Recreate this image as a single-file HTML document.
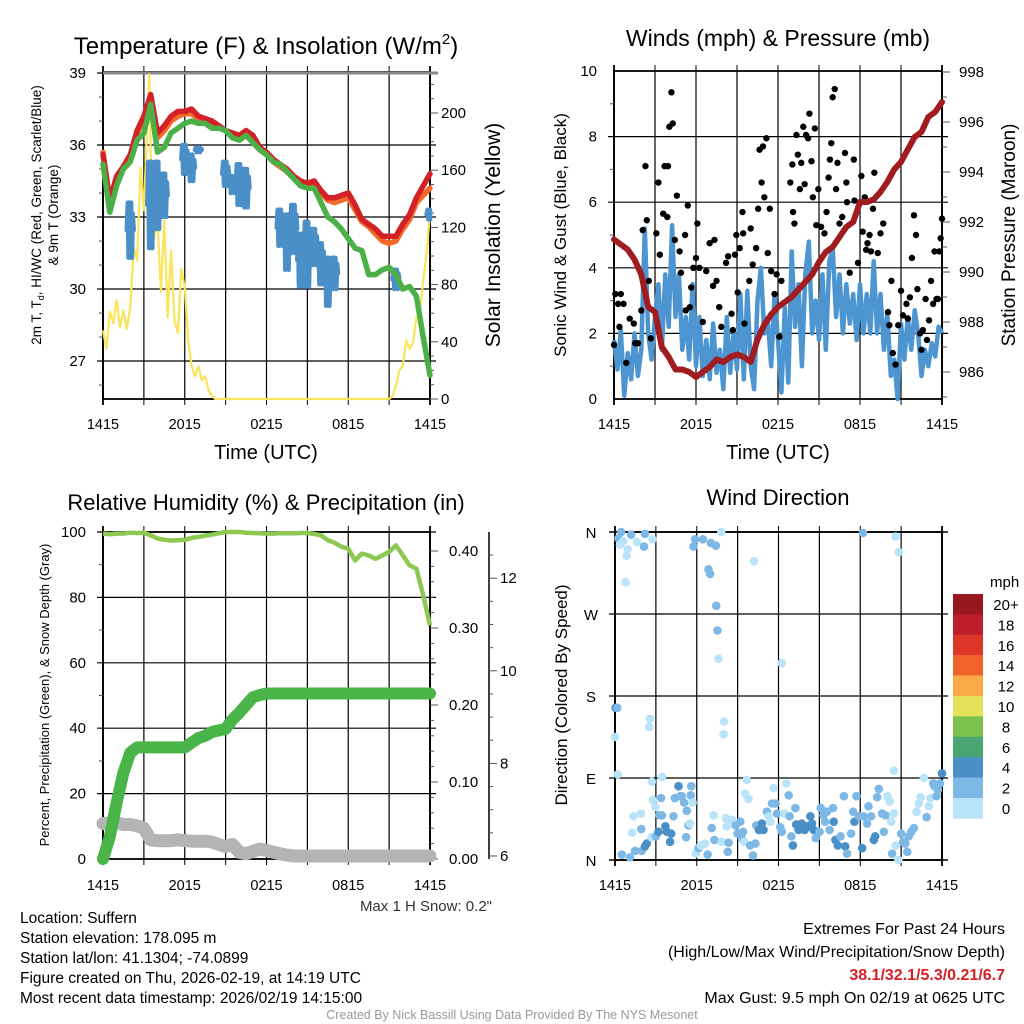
<!DOCTYPE html>
<html><head><meta charset="utf-8"><style>
body{margin:0;background:#fff}
svg{display:block;font-family:"Liberation Sans",sans-serif}
</style></head><body>
<svg id="s" width="1024" height="1024" viewBox="0 0 1024 1024" xmlns="http://www.w3.org/2000/svg">
<rect width="1024" height="1024" fill="#fff"/>
<g id="p1"></g>
<g id="p2"></g>
<g id="p3"></g>
<g id="p4"></g>
<g id="txt" font-size="16" fill="#000">
<text x="266" y="54" font-size="24" text-anchor="middle">Temperature (F) &amp; Insolation (W/m<tspan font-size="15" dy="-10">2</tspan><tspan dy="10">)</tspan></text>
<text x="778" y="46" font-size="23" text-anchor="middle">Winds (mph) &amp; Pressure (mb)</text>
<text x="266" y="510" font-size="22" text-anchor="middle">Relative Humidity (%) &amp; Precipitation (in)</text>
<text x="778" y="505" font-size="22" text-anchor="middle">Wind Direction</text>
<text x="266" y="459" font-size="20" text-anchor="middle">Time (UTC)</text>
<text x="778" y="459" font-size="20" text-anchor="middle">Time (UTC)</text>
<text transform="translate(41,215) rotate(-90)" font-size="13.5" text-anchor="middle">2m T, T<tspan font-size="9" dy="3">d</tspan><tspan dy="-3">, HI/WC (Red, Green, Scarlet/Blue)</tspan></text>
<text transform="translate(58,215) rotate(-90)" font-size="13.5" text-anchor="middle">&amp; 9m T (Orange)</text>
<text transform="translate(500,235) rotate(-90)" font-size="21" text-anchor="middle">Solar Insolation (Yellow)</text>
<text transform="translate(566,235) rotate(-90)" font-size="17" text-anchor="middle">Sonic Wind &amp; Gust (Blue, Black)</text>
<text transform="translate(1015,235) rotate(-90)" font-size="19" text-anchor="middle">Station Pressure (Maroon)</text>
<text transform="translate(49,695) rotate(-90)" font-size="13" text-anchor="middle">Percent, Precipitation (Green), &amp; Snow Depth (Gray)</text>
<text transform="translate(567,695) rotate(-90)" font-size="17" text-anchor="middle">Direction (Colored By Speed)</text>
<text x="492" y="911" font-size="15" fill="#333" text-anchor="end">Max 1 H Snow: 0.2"</text>
<text x="20" y="923" font-size="15.5">Location: Suffern</text>
<text x="20" y="943" font-size="15.5">Station elevation: 178.095 m</text>
<text x="20" y="963" font-size="15.5">Station lat/lon: 41.1304; -74.0899</text>
<text x="20" y="983" font-size="15.5">Figure created on Thu, 2026-02-19, at 14:19 UTC</text>
<text x="20" y="1003" font-size="15.5">Most recent data timestamp: 2026/02/19 14:15:00</text>
<text x="1005" y="934" font-size="16" text-anchor="end">Extremes For Past 24 Hours</text>
<text x="1005" y="957" font-size="16" text-anchor="end">(High/Low/Max Wind/Precipitation/Snow Depth)</text>
<text x="1005" y="980" font-size="16" font-weight="bold" fill="#d42027" text-anchor="end">38.1/32.1/5.3/0.21/6.7</text>
<text x="1005" y="1003" font-size="16" text-anchor="end">Max Gust: 9.5 mph On 02/19 at 0625 UTC</text>
<text x="512" y="1019" font-size="12.5" fill="#999" text-anchor="middle">Created By Nick Bassill Using Data Provided By The NYS Mesonet</text>
<text x="990" y="587" font-size="15">mph</text>
</g>
</svg>
<script>
// ---- data (half-hour steps unless noted) ----
const xTickLabels = ["1415","2015","0215","0815","1415"];
const tempRed = [35.6,33.7,34.7,35.1,35.6,36.6,37.2,38.1,36.5,36.8,37.2,37.4,37.4,37.5,37.2,37.1,37.0,36.8,36.6,36.5,36.4,36.6,36.4,35.9,35.7,35.4,35.2,35.0,34.7,34.5,34.4,34.5,34.1,33.8,33.8,33.9,34.0,33.5,32.9,32.7,32.5,32.2,32.2,32.2,32.7,33.1,33.8,34.3,34.8];
const tempOrange = [35.7,33.6,34.6,35.1,35.5,36.5,37.1,37.9,36.3,36.6,37.0,37.2,37.3,37.3,37.1,37.0,36.9,36.8,36.6,36.4,36.3,36.5,36.3,35.8,35.6,35.3,35.1,34.9,34.6,34.4,34.3,34.3,34.0,33.7,33.6,33.7,33.8,33.3,32.8,32.6,32.3,32.0,31.9,32.0,32.5,32.9,33.6,33.9,34.2];
const tempGreen = [35.2,33.2,34.3,35.0,35.3,36.2,36.5,37.7,35.7,35.9,36.5,36.7,36.9,37.0,36.9,36.9,36.7,36.7,36.6,36.3,36.2,36.4,36.1,35.8,35.6,35.3,35.2,34.9,34.6,34.3,34.2,34.2,33.6,33.0,32.8,32.5,32.1,31.7,31.6,30.6,30.6,30.8,30.9,30.6,30.0,30.1,29.7,28.0,26.4];
const chillLo = [null,null,null,null,31.3,null,null,31.7,32.5,33.0,null,null,34.8,34.5,35.7,null,null,null,34.3,34.0,33.5,33.4,null,null,null,null,31.8,30.8,31.5,30.1,30.1,31.0,30.2,29.3,30.0,null,null,null,null,null,null,null,null,30.0,null,null,null,null,32.9];
const chillHi = [null,null,null,null,33.6,null,null,35.3,35.3,34.8,null,null,36.0,35.6,35.9,null,null,null,35.3,34.7,35.2,35.0,null,null,null,null,33.3,33.1,33.5,32.3,32.8,32.5,31.9,31.3,31.3,null,null,null,null,null,null,null,null,30.8,null,null,null,null,33.3];
// insolation, quarter-hour steps
const solar = [48,35,61,53,69,50,62,49,64,106,97,162,132,195,172,113,125,75,125,57,104,55,46,91,78,41,23,16,23,13,16,6,2,0,0,0,0,0,0,0,0,0,0,0,0,0,0,0,0,0,0,0,0,0,0,0,0,0,0,0,0,0,0,0,0,0,0,0,0,0,0,0,0,0,0,0,0,0,0,0,0,0,0,0,0,2,9,20,23,41,35,39,57,60,83,102,130];
const solarPeakTime = 3.4, solarPeak = 227;
const tempTicks = [27,30,33,36,39];
const solarTicks = [0,40,80,120,160,200];

const pressure = [991.3,991.1,990.9,990.5,989.9,988.6,988.4,987.0,986.6,986.1,986.1,986.0,985.8,986.0,986.2,986.5,986.4,986.6,986.7,986.6,986.4,987.3,987.9,988.3,988.6,988.8,989.0,989.3,989.6,989.9,990.4,990.8,991.0,991.4,991.8,992.0,992.8,992.8,992.9,993.2,993.6,994.1,994.4,994.9,995.4,995.6,996.2,996.4,996.8];
// sonic wind, quarter-hour steps
const wind = [1.8,0.9,2.1,0.1,1.4,0.6,2.0,0.7,1.5,5.2,2.0,1.2,2.5,3.5,1.5,3.8,2.2,5.3,2.5,3.8,1.5,2.5,1.2,3.5,1.0,2.5,0.7,1.8,0.6,2.3,0.8,1.5,0.3,2.5,0.8,2.0,0.9,3.2,0.6,3.3,1.0,0.3,3.0,4.0,2.0,2.4,1.0,3.2,1.8,0.2,2.8,0.5,4.5,2.2,3.5,1.0,3.8,4.8,2.0,3.0,1.8,3.8,1.5,4.2,4.6,2.5,3.8,2.0,3.5,2.3,3.2,1.8,3.5,2.0,3.2,2.0,4.2,2.0,3.2,1.5,2.6,0.7,1.2,0.0,2.3,1.2,2.5,1.5,2.7,2.0,0.7,1.5,1.0,1.7,1.3,2.2,2.0];
const gustTime = [0,0.1,0.3,0.5,0.4,0.7,0.9,1.15,1.45,1.55,1.75,2.0,2.1,2.3,2.4,2.55,2.7,3.1,3.25,3.35,3.6,3.7,3.95,3.9,4.05,4.2,4.3,4.45,4.6,4.8,4.9,5.2,5.4,5.25,5.55,5.65,5.8,6.0,6.1,6.25,6.5,6.75,7.0,7.25,7.35,7.5,7.7,7.85,8.2,8.35,8.6,8.7,8.85,8.95,9.05,9.2,9.4,9.45,9.55,9.9,10.0,10.15,10.4,10.55,10.65,10.8,10.9,11.0,11.15,11.25,11.4,11.5,11.75,11.9,12.1,12.25,12.9,13.05,13.1,13.2,13.35,13.45,13.6,13.7,13.85,13.95,14.05,14.2,14.3,14.45,14.55,14.7,14.8,14.95,15.15,15.4,15.55,15.7,15.8,15.9,16.0,16.15,16.25,16.35,16.5,16.7,16.9,17.0,17.05,17.25,17.55,17.6,17.85,18.1,18.2,18.35,18.45,18.55,18.7,18.8,18.95,19.05,19.3,19.5,19.7,20.05,20.15,20.3,20.4,20.6,20.8,21.0,21.15,21.4,21.5,21.65,21.8,21.95,22.1,22.2,22.4,22.5,22.6,22.8,22.9,23.05,23.2,23.35,23.45,23.6,23.7,23.8,23.9,24.0];
const gustValue = [1.65,3.2,2.9,3.2,2.2,2.9,1.1,2.45,2.3,1.7,1.7,2.7,5.15,7.1,5.45,3.6,1.85,5.05,6.6,4.4,5.65,7.1,7.1,5.55,8.3,9.35,8.4,4.85,6.2,4.5,3.85,5.0,5.9,2.7,2.8,3.4,4.0,4.3,5.35,4.0,2.35,3.9,4.75,3.45,4.85,3.6,2.8,2.2,4.15,4.35,2.6,2.1,4.4,5.0,3.25,4.6,5.7,5.05,2.3,3.6,5.2,4.1,4.6,5.8,7.6,6.6,7.7,6.15,7.95,4.45,5.8,3.9,3.2,3.8,1.9,3.6,6.6,7.15,5.7,5.35,8.05,7.45,6.4,7.2,8.3,6.55,8.05,7.95,8.7,7.25,6.15,8.25,5.3,6.4,5.25,5.05,5.7,6.75,7.3,7.8,9.2,9.45,6.4,7.2,5.35,5.55,7.5,6.6,6.0,3.85,7.3,6.05,4.15,6.8,5.1,6.15,4.55,4.75,5.0,4.5,5.8,6.9,4.45,5.05,5.35,2.65,2.25,3.6,1.4,1.05,2.25,3.3,2.55,2.9,2.45,3.1,4.3,5.6,5.0,3.35,2.0,1.5,2.1,3.05,1.8,2.4,3.6,2.9,4.5,3.05,3.05,4.5,4.9,5.5];
const windTicks = [0,2,4,6,8,10];
const pressureTicks = [986,988,990,992,994,996,998];

const humidity = [99.5,99.3,99.5,99.5,99.8,99.7,99.8,99.0,98.0,97.6,97.4,97.5,97.6,98.2,98.5,98.9,99.2,99.6,100,100,100,99.8,99.7,99.6,99.5,99.5,99.6,99.6,99.6,99.7,99.7,99.4,99.0,97.5,96.7,95.5,94.9,91.3,93.4,92.8,91.8,92.8,93.9,95.9,92.9,89.8,88.8,80.6,71.4];
const precip = [0,0.029,0.073,0.112,0.138,0.145,0.145,0.145,0.145,0.145,0.145,0.145,0.145,0.151,0.157,0.160,0.165,0.167,0.169,0.181,0.19,0.2,0.21,0.213,0.215,0.215,0.215,0.215,0.215,0.215,0.215,0.215,0.215,0.215,0.215,0.215,0.215,0.215,0.215,0.215,0.215,0.215,0.215,0.215,0.215,0.215,0.215,0.215,0.215];
const snowDepth = [6.7,6.72,6.72,6.68,6.68,6.65,6.6,6.35,6.33,6.33,6.33,6.35,6.33,6.32,6.32,6.32,6.3,6.25,6.2,6.25,6.08,6.05,6.1,6.15,6.12,6.08,6.05,6.02,6.0,6.0,6.0,6.0,6.0,6.0,6.0,6.0,6.0,6.0,6.0,6.0,6.0,6.0,6.0,6.0,6.0,6.0,6.0,6.0,6.0];
const humidityTicks = [0,20,40,60,80,100];
const precipTicks = [0,0.1,0.2,0.3,0.4];
const snowTicks = [6,8,10,12];

const dirTime = [0.25,0.45,0.37,0.6,0.93,0.86,0.78,1.18,1.6,2.13,2.2,2.75,5.76,5.88,6.45,7.03,7.4,6.86,6.98,7.43,7.52,7.6,7.8,10.2,12.23,18.2,20.6,20.83,0.05,0.17,0.0,0.2,2.57,2.52,8.0,7.97,20.47,0.5,1.1,1.47,1.96,2.33,2.2,1.27,1.35,1.9,1.93,2.67,2.97,2.77,2.7,3.45,3.38,3.26,3.45,3.0,3.19,3.7,3.8,4.04,4.12,4.29,4.39,4.66,4.78,4.9,5.07,5.27,5.39,5.5,5.6,5.56,5.7,5.22,5.93,6.13,6.3,6.6,6.8,7.23,7.1,7.3,7.84,8.14,8.2,8.33,8.28,8.58,8.85,9.0,9.2,9.3,9.4,9.48,9.68,9.56,9.8,9.92,10.12,10.3,10.37,10.56,10.78,10.9,11.15,11.27,11.4,11.52,11.64,11.79,11.89,12.13,12.25,12.43,12.57,12.75,12.82,12.94,13.06,13.24,13.3,13.48,13.7,13.92,14.1,14.34,14.46,14.58,14.73,15.02,15.1,15.3,15.42,15.56,15.75,16.0,16.05,16.18,16.35,16.55,16.8,16.9,17.03,17.33,17.48,17.57,17.72,17.9,18.14,18.26,18.5,18.6,18.8,19.0,19.1,19.24,19.36,19.6,19.73,19.85,20.0,20.17,20.27,20.47,20.34,20.6,20.8,21.0,21.15,21.3,21.45,21.56,21.74,21.94,22.13,22.3,22.43,22.67,22.87,23.04,23.16,23.36,23.6,23.7,23.85,24.0,23.45];
const dirDeg = [353,360,346,350,341,334,305,357,349,344,358,352,344,352,352,348,345,319,314,279,252,221,360,328,216,359,355,338,167,167,135,94,155,146,152,138,98,6,3,10,10,18,15,30,48,51,34,25,58,66,86,91,68,49,49,26,31,37,31,20,29,48,68,81,70,70,63,54,38,40,81,71,63,25,7,13,16,18,6,49,35,22,20,46,37,19,9,44,38,29,42,24,31,20,88,73,67,16,5,18,38,33,40,33,53,48,42,62,79,62,51,36,31,51,84,71,48,26,16,57,39,33,40,33,37,48,40,33,24,31,57,49,42,53,33,57,42,22,16,26,70,15,7,29,53,42,70,48,13,48,40,59,48,22,26,69,78,51,31,49,70,64,42,51,7,16,0,29,20,18,9,26,31,35,53,62,69,90,47,59,68,84,70,77,84,95,81];
const dirSpeed = [3,3,1,1,1,1,1,3,1,3,3,1,3,3,3,3,3,3,3,3,3,1,1,1,1,3,1,1,5,3,1,1,1,1,1,1,1,3,3,3,3,5,5,1,1,1,3,1,1,1,1,1,3,3,3,3,5,5,5,5,5,3,3,5,3,3,3,3,3,1,3,3,1,3,1,3,1,1,3,1,3,3,1,1,1,3,3,1,3,3,3,3,3,1,1,1,1,3,3,3,3,5,5,5,3,1,1,3,1,3,3,3,3,1,1,3,3,3,5,3,5,5,5,5,5,5,5,5,3,3,3,3,3,3,3,3,5,5,5,3,3,5,3,3,3,5,3,3,5,3,3,3,3,5,5,3,3,3,3,3,1,1,1,1,3,1,1,3,3,3,3,3,3,3,1,1,1,1,3,1,1,3,3,3,3,5,3];
const dirTickLabels = ["N","E","S","W","N"];
const cbLabels = ["20+","18","16","14","12","10","8","6","4","2","0"];
const cbColors = ["#97171c","#bd1f2a","#de3529","#f16429","#f9a947","#e7e05a","#7bc14e","#49a672","#4a8fc6","#7eb9e5","#b9e3f8"];

// ---- drawing helpers ----
const NS="http://www.w3.org/2000/svg";
function mk(parent,tag,attrs){const e=document.createElementNS(NS,tag);for(const k in attrs)e.setAttribute(k,attrs[k]);parent.appendChild(e);return e;}
function txt(parent,x,y,s,anchor,size){const e=mk(parent,"text",{x:x,y:y,"text-anchor":anchor,"font-size":size});e.textContent=s;return e;}
function pathFrom(ts,vs,X,Y){let d="",pen=false;for(let i=0;i<vs.length;i++){if(vs[i]===null){pen=false;continue;}d+=(pen?"L":"M")+X(ts[i]).toFixed(1)+","+Y(vs[i]).toFixed(1);pen=true;}return d;}
const half=i=>i*0.5, quarter=i=>i*0.25;

function frame(g,L,R,T,B,gridY){
  for(let k=1;k<8;k++){const x=L+(R-L)*k/8;const l=mk(g,"line",{x1:x,x2:x,y1:T,y2:B,stroke:"#000","stroke-width":1.2});
    
    
    mk(g,"line",{x1:x,x2:x,y1:T-6,y2:T,stroke:"#000","stroke-width":1});mk(g,"line",{x1:x,x2:x,y1:B,y2:B+6,stroke:"#000","stroke-width":1});}
  gridY.forEach(y=>{const l=mk(g,"line",{x1:L-6,x2:R+6,y1:y,y2:y,stroke:"#000","stroke-width":1.2});
    
    });
  const r=mk(g,"rect",{x:L,y:T,width:R-L,height:B-T,fill:"none",stroke:"#000","stroke-width":1.8});
  
  
  mk(g,"line",{x1:L,x2:L,y1:T-6,y2:B+6,stroke:"#000","stroke-width":1.8});mk(g,"line",{x1:R,x2:R,y1:T-6,y2:B+6,stroke:"#000","stroke-width":1.8});
}
function xTicks(g,L,R,y){xTickLabels.forEach((s,i)=>{const t=txt(g,L+(R-L)*i/4,y,s,"middle",14.5);
  
  });}

// ---- panel 1 ----
(function(){
  const g=document.getElementById("p1"),L=103,R=430,T=72,B=399;
  const X=t=>L+t*(R-L)/24, Y=v=>73+(39-v)*24, YS=w=>B-w*1.43;
  frame(g,L,R,T,B,tempTicks.map(Y));
  mk(g,"line",{x1:L,x2:R+8,y1:73,y2:73,stroke:"#888","stroke-width":3});
  for(let w=0;w<=220;w+=10){const y=YS(w);mk(g,"line",{x1:R,x2:R+(w%40===0?8:4),y1:y,y2:y,stroke:"#555","stroke-width":1});}
  for(let v=26;v<=39;v+=1){mk(g,"line",{x1:L-(v%3===0?0:4),x2:L,y1:Y(v),y2:Y(v),stroke:"#555","stroke-width":1});}
  tempTicks.forEach(v=>{const t=txt(g,86,Y(v)+5,String(v),"end",15);
    
    });
  solarTicks.forEach(v=>{const t=txt(g,441,YS(v)+5,String(v),"start",15);
    
    });
  xTicks(g,L,R,429);
  const ts=tempRed.map((_,i)=>half(i));
  const c=mk(g,"g",{});
  const sp=[];solar.forEach((v,i)=>sp.push([quarter(i),v]));sp.splice(14,0,[solarPeakTime,solarPeak]);
  const sy=mk(c,"path",{d:pathFrom(sp.map(p=>p[0]),sp.map(p=>p[1]),X,YS),fill:"none",stroke:"#fce45a","stroke-width":2.2,"stroke-linejoin":"round"});
  
  
  // wind chill jagged streaks
  let d="";
  chillLo.forEach((lo,i)=>{if(lo===null)return;const t=half(i),hi=chillHi[i],mid=(lo+hi)/2;
    const pts=[[t-0.25,mid],[t-0.18,hi],[t-0.12,lo],[t-0.05,hi],[t,lo+(hi-lo)*0.3],[t+0.06,hi],[t+0.12,lo],[t+0.19,hi-(hi-lo)*0.2],[t+0.25,mid]];
    pts.forEach((p,k)=>{d+=(k?"L":"M")+X(Math.max(0,Math.min(24,p[0]))).toFixed(1)+","+Y(p[1]).toFixed(1);});});
  const wc=mk(c,"path",{d:d,fill:"none",stroke:"#4b8fc9","stroke-width":4.5,"stroke-linejoin":"round","stroke-linecap":"round"});
  
  
  [[tempOrange,"#f26a2a","9m-temp-line"],[tempRed,"#d42027","2m-temp-line"],[tempGreen,"#4bb048","dewpoint-line"]].forEach(s=>{
    const p=mk(c,"path",{d:pathFrom(ts,s[0],X,Y),fill:"none",stroke:s[1],"stroke-width":5.5,"stroke-linejoin":"round","stroke-linecap":"round"});
    
    });
})();

// ---- panel 2 ----
(function(){
  const g=document.getElementById("p2"),L=614,R=942,T=71,B=399;
  const X=t=>L+t*(R-L)/24, Y=v=>B-v*32.8, YP=p=>72+(998-p)*25;
  frame(g,L,R,T,B,windTicks.slice(1,5).map(Y));
  for(let p=985;p<=998;p+=0.5){const y=YP(p);if(y>B)continue;mk(g,"line",{x1:R,x2:R+(p%2===0?8:(p%1===0?5:0)),y1:y,y2:y,stroke:"#555","stroke-width":1});}
  for(let v=1;v<10;v+=2){mk(g,"line",{x1:L-4,x2:L,y1:Y(v),y2:Y(v),stroke:"#555","stroke-width":1});}
  windTicks.forEach(v=>{const t=txt(g,597,Y(v)+5,String(v),"end",15);
    
    });
  pressureTicks.forEach(v=>{const t=txt(g,959,YP(v)+5,String(v),"start",15);
    
    });
  xTicks(g,L,R,429);
  const w=mk(g,"path",{d:pathFrom(wind.map((_,i)=>quarter(i)),wind,X,Y),fill:"none",stroke:"#4d95d1","stroke-width":4.5,"stroke-linejoin":"round"});
  
  
  gustTime.forEach((t,i)=>{const d=mk(g,"circle",{cx:X(t),cy:Y(gustValue[i]),r:3.2,fill:"#000"});
    
    });
  const p=mk(g,"path",{d:pathFrom(pressure.map((_,i)=>half(i)),pressure,X,YP),fill:"none",stroke:"#a11c20","stroke-width":6,"stroke-linejoin":"round","stroke-linecap":"round"});
  
  
})();

// ---- panel 3 ----
(function(){
  const g=document.getElementById("p3"),L=103,R=430,T=532,B=859;
  const X=t=>L+t*(R-L)/24, Y=v=>B-v*3.27, YR=v=>B-v*770, YS=s=>856-(s-6)*46.3;
  frame(g,L,R,T,B,humidityTicks.slice(1).map(Y));
  for(let v=0;v<=0.42;v+=0.02){const y=YR(v);mk(g,"line",{x1:R,x2:R+(Math.round(v*100)%10===0?8:4),y1:y,y2:y,stroke:"#555","stroke-width":1});}
  mk(g,"line",{x1:489,x2:489,y1:532,y2:859,stroke:"#000","stroke-width":1.5});
  for(let s=6;s<=13;s+=0.5){const y=YS(s);if(y<532)continue;mk(g,"line",{x1:489,x2:489+(s%2===0?8:4),y1:y,y2:y,stroke:"#555","stroke-width":1});}
  for(let v=10;v<100;v+=20){mk(g,"line",{x1:L-4,x2:L,y1:Y(v),y2:Y(v),stroke:"#555","stroke-width":1});}
  humidityTicks.forEach(v=>{const t=txt(g,86,Y(v)+5,String(v),"end",15);
    
    });
  precipTicks.forEach(v=>{const t=txt(g,449,YR(v)+5,v.toFixed(2),"start",15);
    
    });
  snowTicks.forEach(v=>{const t=txt(g,500,YS(v)+5,String(v),"start",15);
    
    });
  xTicks(g,L,R,890);
  const ts=humidity.map((_,i)=>half(i));
  const s=mk(g,"path",{d:pathFrom(ts,snowDepth,X,YS),fill:"none",stroke:"#b4b4b4","stroke-width":13,"stroke-linejoin":"round","stroke-linecap":"round"});
  
  
  const p=mk(g,"path",{d:pathFrom(ts,precip,X,YR),fill:"none",stroke:"#49b548","stroke-width":12,"stroke-linejoin":"round","stroke-linecap":"round"});
  
  
  const h=mk(g,"path",{d:pathFrom(ts,humidity,X,Y),fill:"none",stroke:"#8dc853","stroke-width":4.5,"stroke-linejoin":"round"});
  
  
})();

// ---- panel 4 ----
(function(){
  const g=document.getElementById("p4"),L=615,R=942,T=532,B=860;
  const X=t=>L+t*(R-L)/24, Y=d=>B-d*(B-T)/360;
  frame(g,L,R,T,B,[90,180,270].map(Y));
  mk(g,"line",{x1:L-6,x2:R+6,y1:T,y2:T,stroke:"#000","stroke-width":1.5});
  mk(g,"line",{x1:L-6,x2:R+6,y1:B,y2:B,stroke:"#000","stroke-width":1.5});
  dirTickLabels.forEach((s,i)=>{const t=txt(g,591,Y(i*90)+6,s,"middle",15);
    
    });
  xTicks(g,L,R,890);
  const col={1:"#b9e3f8",3:"#7eb9e5",5:"#4a8fc6"};
  dirTime.forEach((t,i)=>{const d=mk(g,"circle",{cx:X(t),cy:Y(dirDeg[i]),r:4.3,fill:col[dirSpeed[i]]});
    
    });
  cbColors.forEach((c,i)=>{const y=594+i*20.4;
    const r=mk(g,"rect",{x:953,y:y,width:30,height:20.6,fill:c});
    
    
    const t=txt(g,1006,y+16,cbLabels[i],"middle",15);
    
    });
})();
</script>
</body></html>
